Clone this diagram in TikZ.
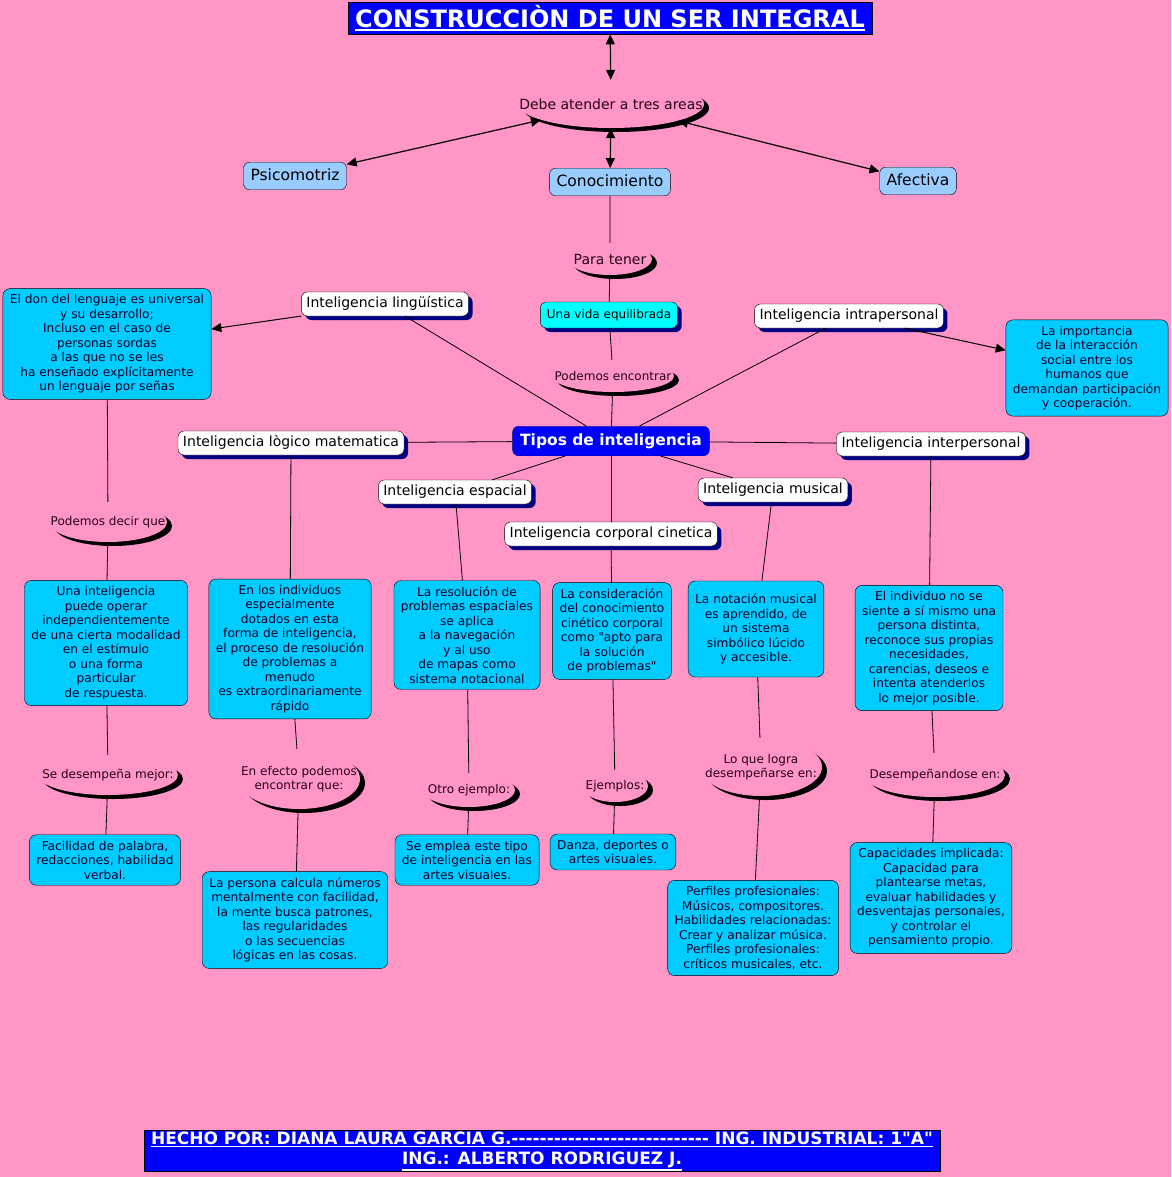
\documentclass[tikz,border=0pt]{standalone}
\usepackage{fontspec}
\setmainfont{DejaVu Sans}[Ligatures=TeXOff]
\usetikzlibrary{arrows.meta, shapes.geometric, shadows}

\newcommand{\subrayado}[1]{\leavevmode\vtop{\hbox{#1}\kern1.5pt\hrule height 1.5pt}}

\definecolor{fondo}{RGB}{255,150,198}
\definecolor{celeste}{RGB}{153,204,255}
\definecolor{turquesa}{RGB}{0,204,255}
\definecolor{aguamarina}{RGB}{0,255,255}
\definecolor{sombra}{RGB}{0,0,128}
\definecolor{azul}{RGB}{0,0,255}
\definecolor{tinta}{RGB}{0,0,40}
\definecolor{tintafrase}{RGB}{40,0,30}

\tikzset{
  titulo/.style={draw=black, fill=azul, text=white, inner xsep=7pt, minimum height=32,
    font=\fontsize{24}{28}\selectfont\bfseries},
  pie/.style={draw=black, fill=azul, text=white, align=center, minimum width=796, minimum height=41,
    inner sep=0pt, font=\fontsize{17}{20}\selectfont\bfseries},
  area/.style={draw=black, fill=celeste, rounded corners=6pt, inner xsep=7pt, inner ysep=6pt,
    text height=11.8pt, text depth=3.7pt, font=\fontsize{15.5}{18}\selectfont},
  concepto/.style={draw=black, fill=white, rounded corners=6pt, inner xsep=5pt, inner ysep=5pt,
    text height=10.6pt, text depth=3.4pt, font=\fontsize{14}{16}\selectfont,
    drop shadow={fill=sombra, opacity=1, shadow xshift=4pt, shadow yshift=-4pt}},
  detalle/.style={draw=black, fill=turquesa, rounded corners=7pt, align=center, text=tinta,
    inner xsep=7pt, inner ysep=6pt, font=\fontsize{12.2}{14.5}\selectfont},
  frase/.style={ellipse, fill=fondo, inner sep=0pt,
    drop shadow={fill=black, opacity=1, shadow xshift=5pt, shadow yshift=-4pt}},
  frasetexto/.style={text=tintafrase, align=center, inner sep=0pt, font=\fontsize{12}{14}\selectfont},
  enlace/.style={line width=0.8pt},
  doble/.style={line width=1.2pt, {Triangle[length=10pt,width=9pt]}-{Triangle[length=10pt,width=9pt]}},
  simple/.style={line width=1pt, -{Triangle[length=10pt,width=9pt]}},
}

\begin{document}
\begin{tikzpicture}[x=1pt, y=-1pt]
  \fill[fondo] (0,0) rectangle (1171,1177);
  \useasboundingbox (0,0) rectangle (1171,1177);

  % titulo y tres areas
  \node[titulo] (titulo) at (610,18) {\subrayado{CONSTRUCCIÒN DE UN SER INTEGRAL}};
  \node[frase, minimum width=186, minimum height=48,
    label={[frasetexto, font=\fontsize{14}{16}\selectfont]center:{Debe atender a tres areas}}] (debe) at (611,104) {};
  \node[area] (psico) at (295,176) {Psicomotriz};
  \node[area] (conoc) at (610,182) {Conocimiento};
  \node[area] (afect) at (918,181) {Afectiva};

  % columna central
  \node[frase, minimum width=84, minimum height=32,
    label={[frasetexto, font=\fontsize{14}{16}\selectfont]center:{Para tener}}] (paratener) at (610,259) {};
  \node[concepto, fill=aguamarina, inner xsep=6.5pt, inner ysep=7pt, text height=9pt, text depth=3pt,
    font=\fontsize{12}{14}\selectfont] (vida) at (609,315) {Una vida equilibrada};
  \node[frase, minimum width=122, minimum height=32,
    label={[frasetexto]center:{Podemos encontrar}}] (podemos) at (613,376) {};
  \node[draw=sombra, fill=azul, text=white, rounded corners=6pt, inner xsep=7.5pt, inner ysep=7pt,
    text height=11.8pt, text depth=3.7pt, font=\fontsize{15.5}{18}\selectfont\bfseries] (tipos) at (611,441) {Tipos de inteligencia};

  % tipos de inteligencia
  \node[concepto] (ling) at (385,304) {Inteligencia lingüística};
  \node[concepto] (intra) at (849,316) {Inteligencia intrapersonal};
  \node[concepto] (logico) at (291,443) {Inteligencia lògico matematica};
  \node[concepto] (inter) at (931,444) {Inteligencia interpersonal};
  \node[concepto] (espacial) at (455,492) {Inteligencia espacial};
  \node[concepto] (musical) at (773,490) {Inteligencia musical};
  \node[concepto] (corporal) at (611,534) {Inteligencia corporal cinetica};

  % descripciones
  \node[detalle] (lenguaje) at (107,344) {El don del lenguaje es universal\\ y su desarrollo;\\ Incluso en el caso de\\ personas sordas\\ a las que no se les\\ ha enseñado explícitamente\\ un lenguaje por señas};
  \node[detalle] (importancia) at (1087,368) {La importancia\\ de la interacción\\ social entre los\\ humanos que\\ demandan participación\\ y cooperación.};
  \node[detalle] (unaint) at (106,643) {Una inteligencia\\ puede operar\\ independientemente\\ de una cierta modalidad\\ en el estímulo\\ o una forma\\ particular\\ de respuesta.};
  \node[detalle] (individuos) at (290,649) {En los individuos\\ especialmente\\ dotados en esta\\ forma de inteligencia,\\ el proceso de resolución\\ de problemas a\\ menudo\\ es extraordinariamente\\ rápido};
  \node[detalle] (resolucion) at (467,635) {La resolución de\\ problemas espaciales\\ se aplica\\ a la navegación\\ y al uso\\ de mapas como\\ sistema notacional};
  \node[detalle] (consideracion) at (612,631) {La consideración\\ del conocimiento\\ cinético corporal\\ como "apto para\\ la solución\\ de problemas"};
  \node[detalle, minimum height=96] (notacion) at (756,629) {La notación musical\\ es aprendido, de\\ un sistema\\ simbólico lúcido\\ y accesible.};
  \node[detalle] (individuo) at (929,648) {El individuo no se\\ siente a sí mismo una\\ persona distinta,\\ reconoce sus propias\\ necesidades,\\ carencias, deseos e\\ intenta atenderlos\\ lo mejor posible.};

  % frases de enlace inferiores
  \node[frase, minimum width=118, minimum height=40,
    label={[frasetexto]center:{Podemos decir que}}] (decir) at (108,522) {};
  \node[frase, minimum width=140, minimum height=40,
    label={[frasetexto]center:{Se desempeña mejor:}}] (mejor) at (108,775) {};
  \node[frase, minimum width=122, minimum height=60,
    label={[frasetexto]center:{En efecto podemos\\ encontrar que:}}] (efecto) at (299,779) {};
  \node[frase, minimum width=92, minimum height=34,
    label={[frasetexto]center:{Otro ejemplo:}}] (otro) at (469,790) {};
  \node[frase, minimum width=66, minimum height=32,
    label={[frasetexto]center:{Ejemplos:}}] (ejemplos) at (615,786) {};
  \node[frase, minimum width=122, minimum height=58,
    label={[frasetexto]center:{Lo que logra\\ desempeñarse en:}}] (logra) at (761,767) {};
  \node[frase, minimum width=140, minimum height=44,
    label={[frasetexto]center:{Desempeñandose en:}}] (desemp) at (935,775) {};

  % ejemplos
  \node[detalle] (facilidad) at (105,860) {Facilidad de palabra,\\ redacciones, habilidad\\ verbal.};
  \node[detalle] (persona) at (295,920) {La persona calcula números\\ mentalmente con facilidad,\\ la mente busca patrones,\\ las regularidades\\ o las secuencias\\ lógicas en las cosas.};
  \node[detalle] (emplea) at (467,860) {Se emplea este tipo\\ de inteligencia en las\\ artes visuales.};
  \node[detalle] (danza) at (613,852) {Danza, deportes o\\ artes visuales.};
  \node[detalle] (perfiles) at (753,928) {Perfiles profesionales:\\ Músicos, compositores.\\ Habilidades relacionadas:\\ Crear y analizar música.\\ Perfiles profesionales:\\ críticos musicales, etc.};
  \node[detalle] (capacidades) at (931,898) {Capacidades implicada:\\ Capacidad para\\ plantearse metas,\\ evaluar habilidades y\\ desventajas personales,\\ y controlar el\\ pensamiento propio.};

  % pie
  \node[pie] (pie) at (542,1151) {\subrayado{HECHO POR: DIANA LAURA GARCIA G.---------------------------- ING. INDUSTRIAL: 1"A"}\\ \subrayado{ING.: ALBERTO RODRIGUEZ J.}};

  % flechas
  \draw[doble] (titulo) -- (debe);
  \draw[doble] (debe) -- (psico);
  \draw[doble] (debe) -- (conoc);
  \draw[doble] (debe) -- (afect);
  \draw[simple] (ling) -- (lenguaje);
  \draw[simple] (intra) -- (importancia);

  % enlaces
  \draw[enlace] (conoc) -- (paratener) -- (vida) -- (podemos) -- (tipos);
  \foreach \t in {ling, intra, logico, inter, espacial, musical, corporal}
    \draw[enlace] (tipos) -- (\t);
  \draw[enlace] (lenguaje) -- (decir) -- (unaint) -- (mejor) -- (facilidad);
  \draw[enlace] (logico) -- (individuos) -- (efecto) -- (persona);
  \draw[enlace] (espacial) -- (resolucion) -- (otro) -- (emplea);
  \draw[enlace] (corporal) -- (consideracion) -- (ejemplos) -- (danza);
  \draw[enlace] (musical) -- (notacion) -- (logra) -- (perfiles);
  \draw[enlace] (inter) -- (individuo) -- (desemp) -- (capacidades);
\end{tikzpicture}
\end{document}
